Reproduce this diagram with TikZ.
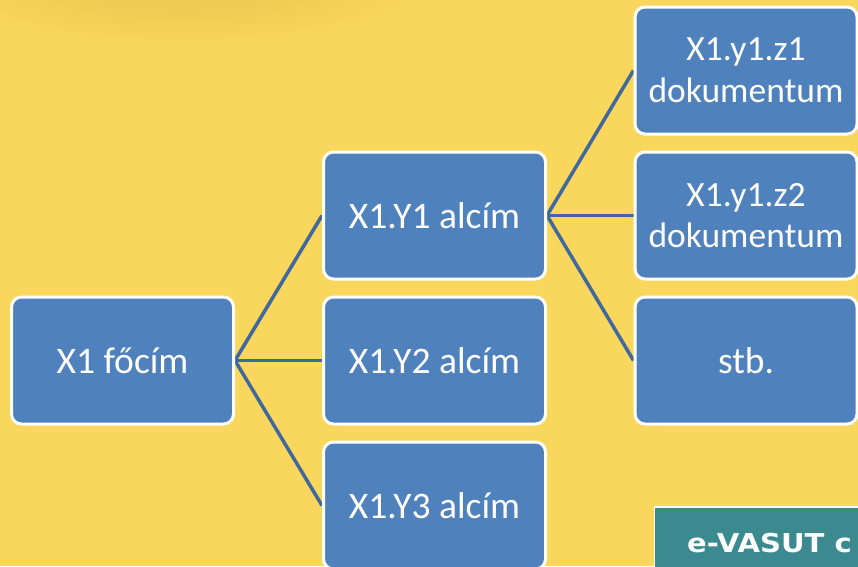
\documentclass[tikz,border=0pt]{standalone}
\usepackage{fontspec}
\setmainfont{Carlito}
\newfontfamily\tealfont[FakeStretch=1.12]{DejaVu Sans}
\definecolor{bgyellow}{RGB}{249,214,92}
\definecolor{shadowcol}{RGB}{235,196,77}
\definecolor{boxblue}{RGB}{79,129,189}
\definecolor{lineblue}{RGB}{64,104,158}
\definecolor{tealc}{RGB}{58,138,143}
\pgfdeclarelayer{bg}
\pgfdeclarelayer{edges}
\pgfsetlayers{bg,edges,main}
\begin{document}
\begin{tikzpicture}[x=1pt,y=-1pt,
  box/.style={draw=white, line width=3pt, fill=boxblue, rounded corners=10pt,
    minimum width=222pt, minimum height=127pt, inner sep=0pt, text=white,
    align=center, font=\fontsize{37.5}{44}\selectfont},
  twoline/.style={font=\fontsize{35.5}{41.6}\selectfont},
  conn/.style={draw=lineblue, line width=3.5pt},
  logobox/.style={draw=white, line width=1.5pt, fill=tealc, minimum width=260pt,
    minimum height=90pt, anchor=north west, inner sep=0pt},
  logotext/.style={text=white, anchor=base west, inner sep=0pt,
    font=\tealfont\bfseries\fontsize{26}{30}\selectfont}]
\useasboundingbox (0,0) rectangle (858,566);
\clip (0,0) rectangle (858,566);
\begin{pgfonlayer}{bg}
  \fill[bgyellow] (0,0) rectangle (858,566);
  \shade[inner color=shadowcol, outer color=bgyellow] (182,-14) ellipse [x radius=250pt, y radius=62pt];
\end{pgfonlayer}
% nodes
\node[box] (main) at (122.5,360.5) {X1 főcím};
\node[box] (y1) at (434.5,215.5) {X1.Y1 alcím};
\node[box] (y2) at (434.5,360.5) {X1.Y2 alcím};
\node[box] (y3) at (434.5,505.5) {X1.Y3 alcím};
\node[box,twoline] (z1) at (746,70.5) {X1.y1.z1\\dokumentum};
\node[box,twoline] (z2) at (746,215.5) {X1.y1.z2\\dokumentum};
\node[box] (z3) at (746,360.5) {stb.};
% connectors
\begin{pgfonlayer}{edges}
  \draw[conn] (main.east) -- (y1.west);
  \draw[conn] (main.east) -- (y2.west);
  \draw[conn] (main.east) -- (y3.west);
  \draw[conn] (y1.east) -- (z1.west);
  \draw[conn] (y1.east) -- (z2.west);
  \draw[conn] (y1.east) -- (z3.west);
\end{pgfonlayer}
% logo
\node[logobox] (logo) at (653.5,506) {};
\node[logotext] (logotxt) at (687,552.3) {e-VASUT c};
\end{tikzpicture}
\end{document}
